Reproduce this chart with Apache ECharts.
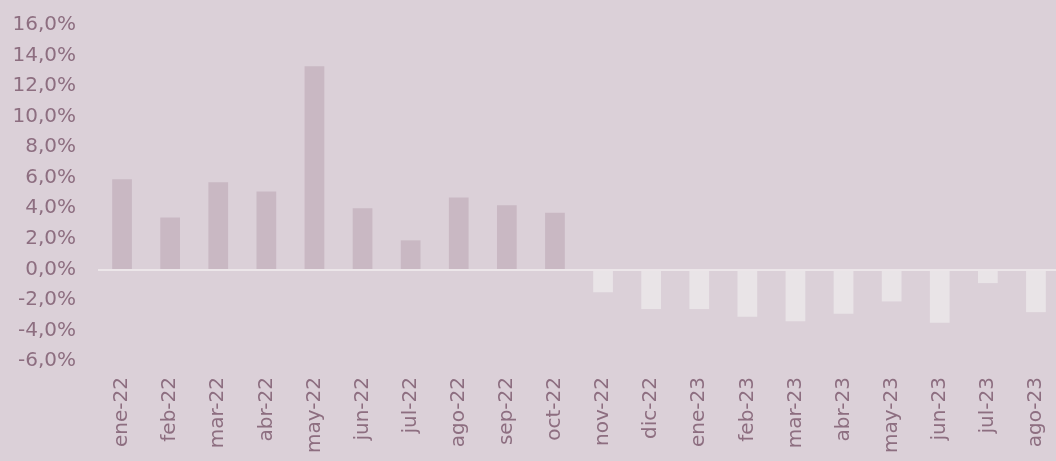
<!DOCTYPE html>
<html>
<head>
<meta charset="utf-8">
<script src="https://cdn.jsdelivr.net/npm/echarts@6/dist/echarts.min.js"></script>
<style>
    html, body { margin: 0; padding: 0; background: #dbd0d8; }
    #chart { width: 1056px; height: 461px; }
</style>
</head>
<body>
<div id="chart"></div>
<script>
var meses = ['ene-22','feb-22','mar-22','abr-22','may-22','jun-22','jul-22','ago-22','sep-22','oct-22',
    'nov-22','dic-22','ene-23','feb-23','mar-23','abr-23','may-23','jun-23','jul-23','ago-23'];
var variacion = [5.9, 3.4, 5.7, 5.1, 13.3, 4.0, 1.9, 4.7, 4.2, 3.7,
    -1.5, -2.6, -2.6, -3.1, -3.4, -2.9, -2.1, -3.5, -0.9, -2.8];
var ejeY = { min: -6, max: 16, interval: 2 };

var textColor = '#8d6e80';
var fontName = 'DejaVu Sans';

var option = {
    backgroundColor: '#dbd0d8',
    animation: false,
    grid: {
        left: 98,
        right: -4,
        top: 25,
        bottom: 100,
        containLabel: false,
        outerBoundsMode: 'none'
    },
    xAxis: {
        type: 'category',
        data: meses,
        axisLine: { show: false, onZero: false },
        axisTick: { show: false },
        axisLabel: {
            rotate: 90,
            margin: 16,
            color: textColor,
            fontFamily: fontName,
            fontSize: 20,
            interval: 0
        }
    },
    yAxis: {
        type: 'value',
        min: ejeY.min,
        max: ejeY.max,
        interval: ejeY.interval,
        splitLine: { show: false },
        axisLine: { show: false },
        axisTick: { show: false },
        axisLabel: {
            margin: 22,
            color: textColor,
            fontFamily: fontName,
            fontSize: 20,
            formatter: function (v) {
                return v.toFixed(1).replace('.', ',') + '%';
            }
        }
    },
    series: [{
        type: 'bar',
        data: variacion,
        barWidth: '41%',
        itemStyle: {
            color: function (p) {
                return p.value >= 0 ? '#c9b8c3' : '#e9e4e7';   // positivo / negativo
            }
        },
        markLine: {
            silent: true,
            symbol: 'none',
            label: { show: false },
            lineStyle: { color: '#ece6e9', width: 2, type: 'solid' },
            data: [{ yAxis: 0 }]
        }
    }]
};

var echart = echarts.init(document.getElementById('chart'));
echart.setOption(option, true);
</script>
</body>
</html>
